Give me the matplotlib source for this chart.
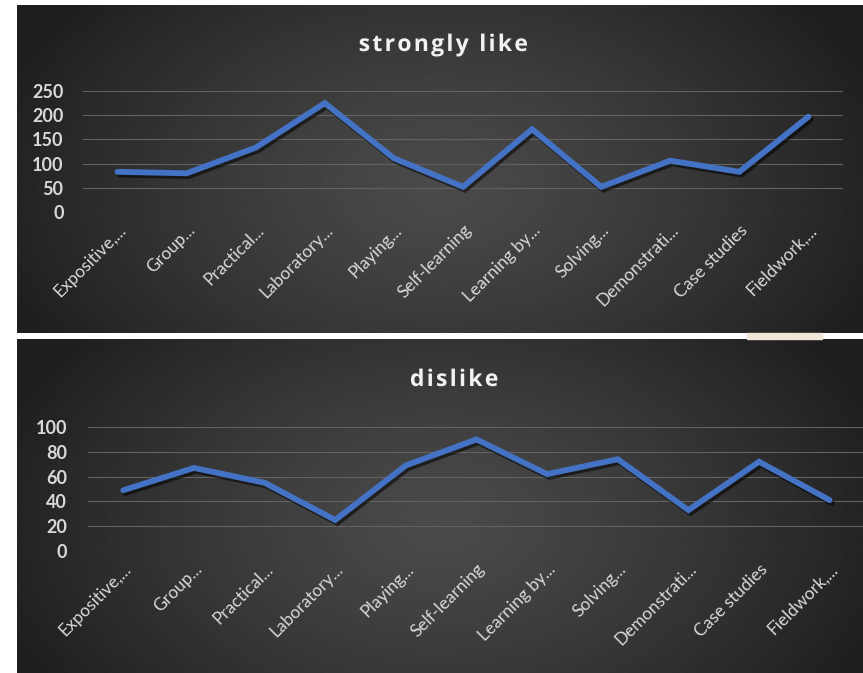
import numpy as np
import matplotlib.pyplot as plt
import matplotlib.patheffects as pe
from matplotlib.patches import Rectangle

methods = ["Expositive,...", "Group...", "Practical...", "Laboratory...", "Playing...",
           "Self-learning", "Learning by...", "Solving...", "Demonstrati...",
           "Case studies", "Fieldwork,..."]
strongly_like = [83, 80, 133, 225, 111, 52, 171, 52, 106, 83, 197]
dislike = [49, 67, 55, 25, 69, 90, 62, 74, 33, 72, 41]

W, H = 863, 673
fig = plt.figure(figsize=(W / 100, H / 100), dpi=100)
fig.patch.set_facecolor("white")

FONT = "Lato"
LINE_BLUE = "#4472C4"
TEXT_COL = "#d9d9d9"


def px_rect(x0, y0, x1, y1):
    # pixel box (top-left origin) -> figure fraction rect
    return [x0 / W, 1 - y1 / H, (x1 - x0) / W, (y1 - y0) / H]


def dark_panel(rect):
    ax = fig.add_axes(rect, zorder=0)
    ny, nx = 200, 400
    yy, xx = np.mgrid[0:ny, 0:nx]
    r = np.sqrt(((xx - nx * 0.5) / (nx * 0.55)) ** 2 + ((yy - ny * 0.55) / (ny * 0.9)) ** 2)
    r = np.clip(r, 0, 1)
    shade = 0.29 - 0.17 * r ** 1.3
    ax.imshow(shade, cmap="gray", vmin=0, vmax=1, aspect="auto",
              extent=[0, 1, 0, 1], interpolation="bilinear")
    ax.set_axis_off()


def line_chart(rect, values, ymax, step, title, title_xy, ypad):
    ax = fig.add_axes(rect, zorder=2)
    ax.set_facecolor("none")
    x = np.arange(len(values))
    ax.plot(x, values, color=LINE_BLUE, lw=4.2, solid_capstyle="round",
            solid_joinstyle="miter",
            path_effects=[pe.SimpleLineShadow(offset=(1.5, -2), alpha=0.55, shadow_color="black"),
                          pe.Normal()])
    ax.set_xlim(-0.5, len(values) - 0.5)
    ax.set_ylim(0, ymax)
    ticks = np.arange(0, ymax + 1, step)
    ax.set_yticks(ticks)
    for t in ticks:
        ax.axhline(t, color="#626262", lw=0.8, zorder=0)
    for s in ax.spines.values():
        s.set_visible(False)
    ax.tick_params(axis="both", length=0)
    ax.tick_params(axis="y", pad=ypad)
    ax.set_yticklabels([str(t) for t in ticks], fontfamily=FONT, fontweight="bold",
                       fontsize=13, color=TEXT_COL)
    ax.set_xticks(x)
    ax.set_xticklabels(methods, rotation=45, ha="right", rotation_mode="anchor",
                       fontfamily=FONT, fontsize=12.5, color=TEXT_COL)
    ax.tick_params(axis="x", pad=7)
    # spaced-out bold title (hair spaces between letters)
    spaced = "\u200a".join(title)
    fig.text(title_xy[0] / W, 1 - title_xy[1] / H, spaced, ha="center", va="center",
             family=["Open Sans", "DejaVu Sans"], fontweight="bold", fontsize=16.5,
             color="#f2f2f2",
             path_effects=[pe.withSimplePatchShadow(offset=(1, -1), alpha=0.4)])
    return ax


# two dark chart panels with a white gap between them
dark_panel(px_rect(17, 5, 863, 333))
dark_panel(px_rect(17, 339, 863, 673))
fig.patches.append(Rectangle((747 / W, 1 - 339 / H), 75 / W, 6 / H,
                             transform=fig.transFigure, color="#f2e6d8", zorder=1))

line_chart(px_rect(83, 91, 843, 212), strongly_like, 250, 50,
           "strongly like", (443, 45), 14)
line_chart(px_rect(88, 427, 865, 551), dislike, 100, 20,
           "dislike", (454, 380), 15)

fig.savefig("out.png", dpi=100, facecolor="white")
